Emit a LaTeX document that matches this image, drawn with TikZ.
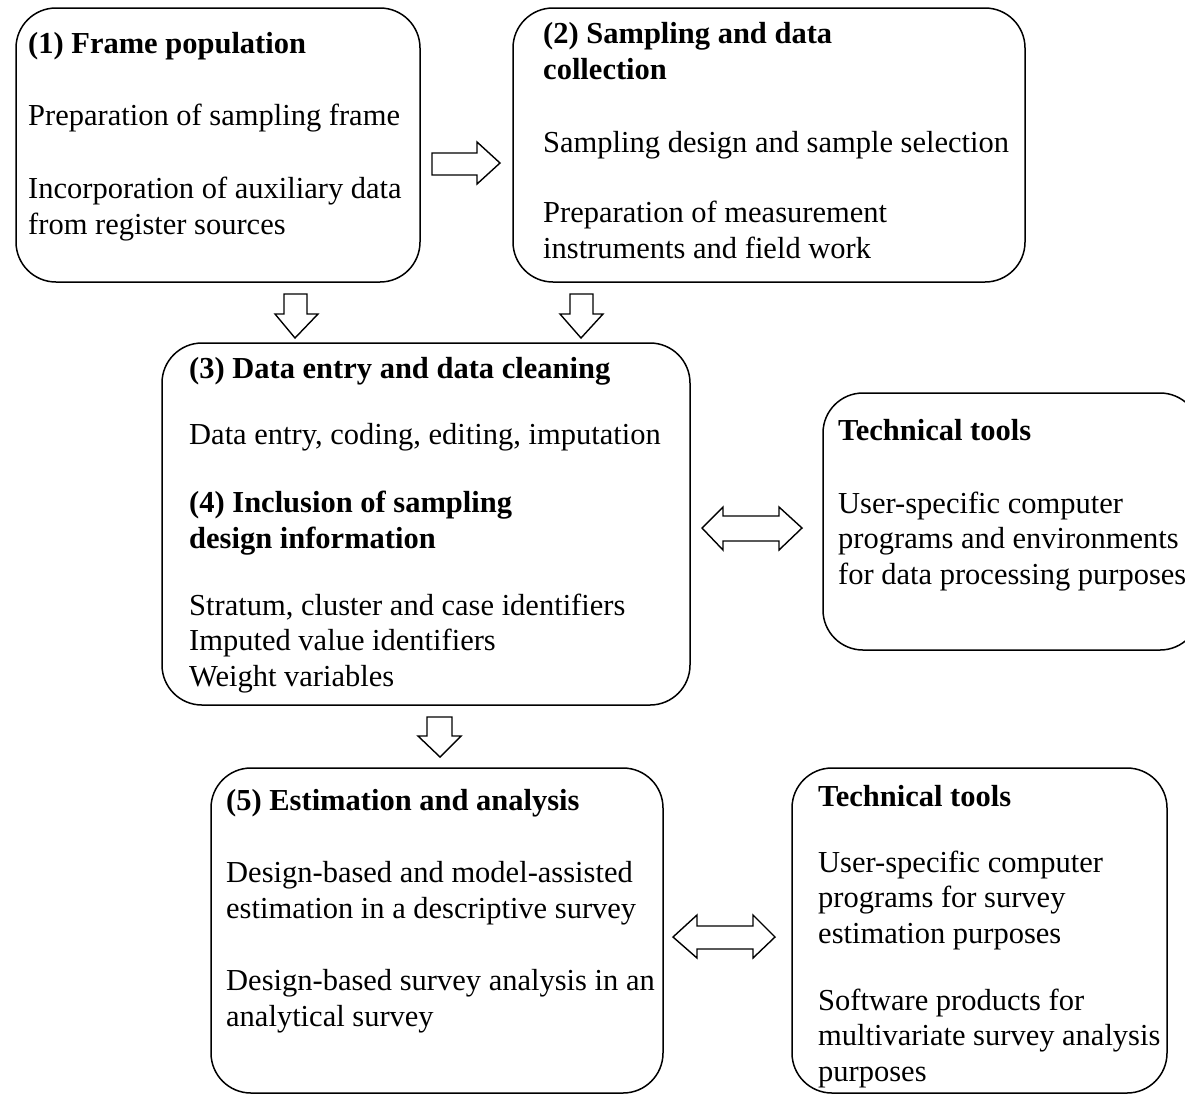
\documentclass[tikz,border=0pt]{standalone}
\usepackage{fontspec}
\setmainfont{Liberation Serif}
\begin{document}
\begin{tikzpicture}[x=1pt,y=-1pt,
  box/.style={draw, line width=1.5pt, rounded corners=40pt},
  txt/.style={anchor=base west, inner sep=0pt, align=left, font=\fontsize{30.5}{35.5}\selectfont},
  blk/.style={draw, line width=1.4pt, fill=white, line join=miter}]
\useasboundingbox (0,0) rectangle (1185,1096);
\clip (0,0) rectangle (1185,1096);
% boxes
\draw[box] (16,8) rectangle (420,282);
\draw[box] (513,8) rectangle (1025,282);
\draw[box] (162,343) rectangle (690,705);
\draw[box] (823,393) rectangle (1200,650);
\draw[box] (211,768) rectangle (663,1093);
\draw[box] (792,768) rectangle (1167,1093);
% texts box 1 (base = baseline of last line)
\node[txt] (t1a) at (28,53) {\textbf{(1) Frame population}};
\node[txt] (t1b) at (28,125) {Preparation of sampling frame};
\node[txt] (t1c) at (28,234) {Incorporation of auxiliary data\\from register sources};
% box 2
\node[txt] (t2a) at (543,79) {\textbf{(2) Sampling and data}\\\textbf{collection}};
\node[txt] (t2b) at (543,152) {Sampling design and sample selection};
\node[txt] (t2c) at (543,258) {Preparation of measurement\\instruments and field work};
% box 3
\node[txt] (t3a) at (189,378) {\textbf{(3) Data entry and data cleaning}};
\node[txt] (t3b) at (189,444) {Data entry, coding, editing, imputation};
\node[txt] (t3c) at (189,548) {\textbf{(4) Inclusion of sampling}\\\textbf{design information}};
\node[txt] (t3d) at (189,686) {Stratum, cluster and case identifiers\\Imputed value identifiers\\Weight variables};
% tools 1
\node[txt] (t4a) at (838,440) {\textbf{Technical tools}};
\node[txt] (t4b) at (838,584) {User-specific computer\\programs and environments\\for data processing purposes};
% box 5
\node[txt] (t5a) at (226,810) {\textbf{(5) Estimation and analysis}};
\node[txt] (t5b) at (226,918) {Design-based and model-assisted\\estimation in a descriptive survey};
\node[txt] (t5c) at (226,1026) {Design-based survey analysis in an\\analytical survey};
% tools 2
\node[txt] (t6a) at (818,806) {\textbf{Technical tools}};
\node[txt] (t6b) at (818,943) {User-specific computer\\programs for survey\\estimation purposes};
\node[txt] (t6c) at (818,1081) {Software products for\\multivariate survey analysis\\purposes};
% block arrows
\draw[blk] (432,153) -- (477,153) -- (477,142) -- (500,163) -- (477,184) -- (477,175) -- (432,175) -- cycle;
\draw[blk] (284,294) -- (307,294) -- (307,314) -- (318,314) -- (295,338) -- (275,314) -- (284,314) -- cycle;
\draw[blk] (570,294) -- (593,294) -- (593,314) -- (603,314) -- (581,338) -- (560,314) -- (570,314) -- cycle;
\draw[blk] (427,717) -- (452,717) -- (452,736) -- (461,736) -- (440,757) -- (418,736) -- (427,736) -- cycle;
\draw[blk] (702,528) -- (723,507) -- (723,516) -- (779,516) -- (779,507) -- (802,528) -- (779,550) -- (779,541) -- (723,541) -- (723,550) -- cycle;
\draw[blk] (673,937) -- (697,915) -- (697,926) -- (753,926) -- (753,915) -- (775,937) -- (753,958) -- (753,949) -- (697,949) -- (697,958) -- cycle;
\end{tikzpicture}
\end{document}
